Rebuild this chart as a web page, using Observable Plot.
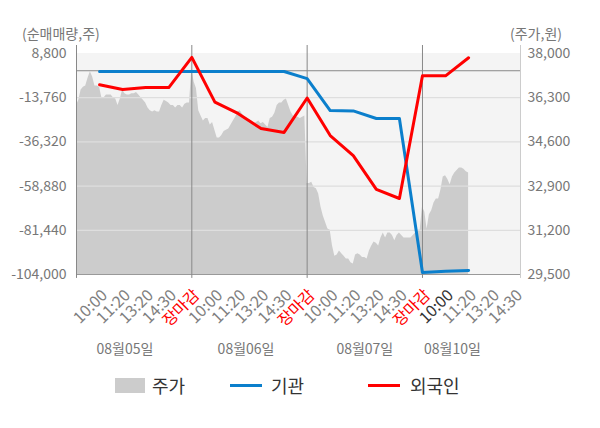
<!DOCTYPE html>
<html><head><meta charset="utf-8">
<script src="https://cdn.jsdelivr.net/npm/d3@7"></script>
<script src="https://cdn.jsdelivr.net/npm/@observablehq/plot@0.6"></script>
<style>
body{margin:0;background:#fff;font-family:"Noto Sans CJK KR","Noto Sans",sans-serif;}
#wrap{position:relative;width:600px;height:428px;overflow:hidden;}
.t{position:absolute;font-size:14px;color:#777;line-height:20px;top:23px;white-space:nowrap;}
#chart{position:absolute;left:0;top:45px;}
.lgtext{position:absolute;font-size:18px;color:#333;line-height:24px;top:373px;white-space:nowrap;}
.sw{position:absolute;}
</style></head><body>
<div id="wrap">
<div class="t" style="left:22px">(순매매량,주)</div>
<div class="t" style="right:38px">(주가,원)</div>
<div id="chart"></div>
<div class="sw" style="left:115px;top:378px;width:30px;height:15px;background:#cccccc"></div>
<div class="lgtext" style="left:152px">주가</div>
<div class="sw" style="left:230px;top:384px;width:32px;height:3px;background:#0b7fcc"></div>
<div class="lgtext" style="left:271px">기관</div>
<div class="sw" style="left:368px;top:384px;width:32px;height:3px;background:#ff0000"></div>
<div class="lgtext" style="left:410px">외국인</div>
</div>
<script>
// ---- data ----
const days = ["08월05일", "08월06일", "08월07일", "08월10일"];
const dayLabelSlot = [2.1, 7.35, 12.5, 16.3];
const tickLabels = ["10:00","11:20","13:20","14:30","장마감",
                    "10:00","11:20","13:20","14:30","장마감",
                    "10:00","11:20","13:20","14:30","장마감",
                    "10:00","11:20","13:20","14:30"];
const tickTone = ["#808080","#808080","#808080","#808080","#ff0000",
                  "#808080","#808080","#808080","#808080","#ff0000",
                  "#808080","#808080","#808080","#808080","#ff0000",
                  "#333333","#808080","#808080","#808080"];
const leftTicks = [8800, -13760, -36320, -58880, -81440, -104000];
const rightTicks = [38000, 36300, 34600, 32900, 31200, 29500];
// 기관 / 외국인 net buying (shares), one value per session slot (10:00 day1 ... 11:20 day4)
const institution = [-400, -400, -400, -400, -400, -400, -400, -400, -400,
                     -4000, -20300, -20500, -24400, -24400, -103000, -102300, -101900];
const foreign = [-7200, -9600, -8600, -8600, 6800, -16000, -21800, -29500, -31500,
                 -13900, -33100, -43300, -60600, -65200, -2600, -2600, 6600];
// 주가 (won), sampled every 0.1 session slot from day1 09:00
const priceStep = 0.1;
const price = [
36000,36200,36600,36700,36750,37050,37300,37100,36750,36750,
36700,36300,36300,36400,36400,36400,36300,36250,36000,36250,
36600,36450,36400,36400,36450,36450,36500,36400,36300,36200,
36100,35900,35800,35750,35800,35750,35750,36000,36200,36150,
36100,36000,36000,35900,36000,36000,35900,36050,36100,36100,
37400,36900,36650,35800,35600,35400,35500,35500,35250,35350,
35050,34750,34750,34850,35000,35050,35100,35250,35400,35550,
35750,35800,35650,35550,35500,35450,35400,35300,35350,35400,
35300,35350,35250,35150,35500,35550,35700,36000,36100,36100,
36200,36250,36000,35750,35600,35550,35550,35500,35550,35600,
33000,33000,33050,32850,32800,32600,32100,31750,31500,31250,
31200,30600,30200,30250,30400,30300,30200,30100,30100,29950,
29900,30250,30300,30250,30150,30150,30100,30400,30600,30750,
30700,30600,30900,31100,30900,31100,31100,31000,30800,31000,
31100,31000,30900,30900,30900,30900,31000,31100,31200,31200,
32100,31900,31250,31800,31950,32250,32400,32400,32750,33250,
33300,33150,32950,33250,33400,33500,33600,33600,33550,33450,33400];

// ---- scales mapping (dual axis) ----
const L0 = leftTicks[leftTicks.length - 1], L1 = leftTicks[0];
const P0 = rightTicks[rightTicks.length - 1], P1 = rightTicks[0];
const toLeft = p => L0 + (p - P0) / (P1 - P0) * (L1 - L0);
const fromLeft = v => Math.round(P0 + (v - L0) / (L1 - L0) * (P1 - P0));
const xMax = 19.25;
const yTop = 12880;
const slotsPerDay = 5;
const dayStarts = days.map((d, i) => i * slotsPerDay);
const fmt = v => v.toLocaleString("en-US");
const FONT = '"Noto Sans CJK KR","Noto Sans",sans-serif';

const chart = Plot.plot({
  width: 600, height: 320,
  marginTop: 0, marginBottom: 91, marginLeft: 76, marginRight: 80,
  style: {fontFamily: FONT, fontSize: "14px", background: "transparent", overflow: "visible"},
  x: {domain: [0, xMax], axis: null},
  y: {domain: [L0, yTop], axis: null},
  color: {type: "identity"},
  marks: [
    Plot.rect([0], {x1: () => 0, x2: () => xMax, y1: () => L0, y2: () => L1, fill: "#f4f4f4"}),
    Plot.areaY(price, {x: (d, i) => i * priceStep, y1: () => L0, y2: d => toLeft(d), fill: "#cccccc"}),
    Plot.ruleY(leftTicks.slice(1, -1), {stroke: "#dedede", strokeWidth: 1.2}),
    Plot.ruleY([0], {stroke: "#888"}),
    Plot.ruleY([L0], {stroke: "#999"}),
    Plot.ruleX(dayStarts, {y1: () => L0 - 2000, y2: () => yTop, stroke: "#888"}),
    Plot.ruleX([xMax], {y1: () => L0 - 2000, y2: () => yTop, stroke: "#ccc"}),
    Plot.line(institution, {x: (d, i) => i + 1, y: d => d, stroke: "#0b7fcc", strokeWidth: 3}),
    Plot.line(foreign, {x: (d, i) => i + 1, y: d => d, stroke: "#ff0000", strokeWidth: 3}),
    Plot.axisY(leftTicks, {anchor: "left", tickSize: 0, tickPadding: 10, tickFormat: fmt, color: "#777", fontSize: 14}),
    Plot.axisY(rightTicks.map(toLeft), {anchor: "right", tickSize: 0, tickPadding: 7, tickFormat: v => fmt(fromLeft(v)), color: "#777", fontSize: 14}),
    Plot.text(tickLabels, {x: (d, i) => i + 1, frameAnchor: "bottom", dx: 5, dy: 18, rotate: -45, textAnchor: "end", lineAnchor: "middle", fill: (d, i) => tickTone[i], fontSize: 16}),
    Plot.text(days, {x: (d, i) => dayLabelSlot[i], frameAnchor: "bottom", dy: 79, fill: "#777", fontSize: 14})
  ]
});
document.getElementById("chart").appendChild(chart);
</script>
</body></html>
